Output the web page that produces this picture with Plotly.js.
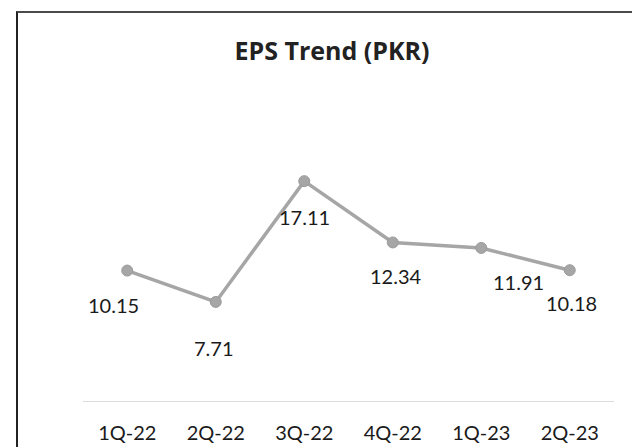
<!DOCTYPE html>
<html>
<head>
<meta charset="utf-8">
<script src="https://cdn.plot.ly/plotly-3.0.1.min.js"></script>
<style>
  html, body { margin: 0; padding: 0; background: #fff; }
  #wrap { position: relative; width: 632px; height: 447px; overflow: hidden; }
  #chart { position: absolute; left: 0; top: 0; width: 632px; height: 447px; }
  #frame { position: absolute; left: 16px; top: 11px; width: 700px; height: 500px;
           border-top: 2px solid #4a4a4a; border-left: 2px solid #222; pointer-events: none; }
</style>
</head>
<body>
<div id="wrap">
  <div id="chart"></div>
  <div id="frame"></div>
</div>
<script>
// Data
const quarters = ["1Q-22", "2Q-22", "3Q-22", "4Q-22", "1Q-23", "2Q-23"];
const eps = [10.15, 7.71, 17.11, 12.34, 11.91, 10.18];
const labelText = ["10.15", "7.71", "17.11", "12.34", "11.91", "10.18"];

// Label placement (styling offsets in pixels)
const labelDx = [-14, -2, 0, 3, 37, 2];
const labelDy = [-34, -46, -36, -34, -34, -33];

const trace = {
  type: "scatter",
  mode: "lines+markers",
  x: quarters,
  y: eps,
  line: { color: "#a6a6a6", width: 3.5 },
  marker: { color: "#a6a6a6", size: 11, line: { color: "#9a9a9a", width: 1 } },
  hoverinfo: "skip"
};

const annotations = quarters.map((q, i) => ({
  x: q, y: eps[i], xref: "x", yref: "y",
  text: labelText[i], showarrow: false,
  xshift: labelDx[i], yshift: labelDy[i],
  font: { family: "Lato, 'Open Sans', sans-serif", size: 20, color: "#1a1a1a" }
}));

const layout = {
  width: 632, height: 447,
  margin: { l: 83, r: 18, t: 144, b: 46 },
  paper_bgcolor: "#fff", plot_bgcolor: "#fff",
  showlegend: false,
  title: {
    text: "<b>EPS Trend (PKR)</b>",
    x: 332 / 632, xref: "container", xanchor: "center",
    y: 0.885, yref: "container", yanchor: "middle",
    font: { family: "'Open Sans', Lato, sans-serif", size: 25, color: "#222" }
  },
  xaxis: {
    type: "category",
    range: [-0.5, 5.5],
    showline: true, linecolor: "#dcdcdc", linewidth: 1,
    showgrid: false, zeroline: false, ticks: "",
    ticklabelstandoff: 14,
    tickfont: { family: "Lato, 'Open Sans', sans-serif", size: 20, color: "#1a1a1a" }
  },
  yaxis: {
    range: [0, 20],
    showgrid: false, zeroline: false, showline: false,
    showticklabels: false, ticks: ""
  },
  annotations: annotations
};

Plotly.newPlot("chart", [trace], layout, { displayModeBar: false, staticPlot: true });
</script>
</body>
</html>
